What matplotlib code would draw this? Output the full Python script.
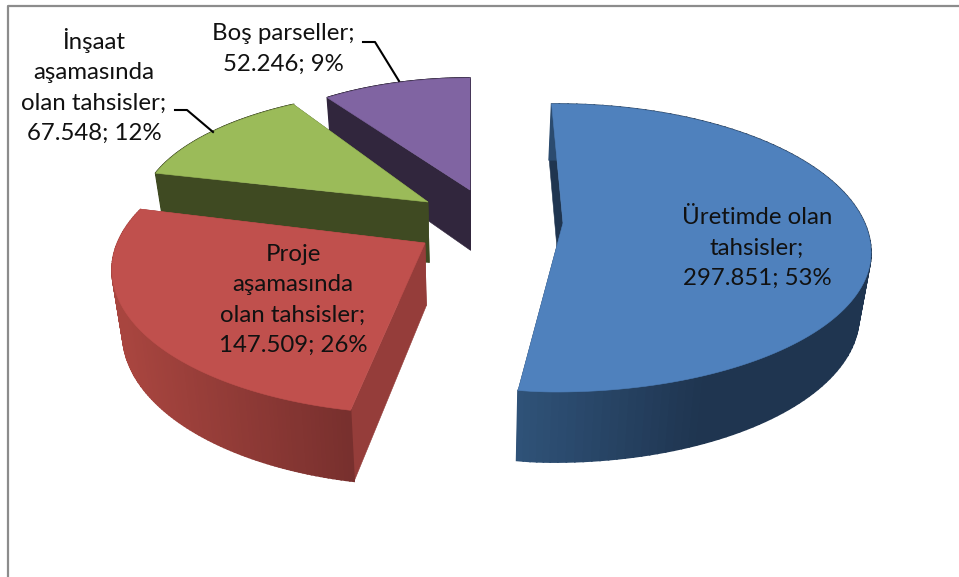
import matplotlib
matplotlib.use("Agg")
import matplotlib.pyplot as plt
import numpy as np
from matplotlib.colors import to_rgb
from matplotlib.patches import Polygon

plt.rcParams['font.family'] = ['Lato', 'DejaVu Sans']

CATEGORIES = ["Üretimde olan\ntahsisler;", "Proje\naşamasında\nolan tahsisler;", "İnşaat\naşamasında\nolan tahsisler;", "Boş parseller;"]
VALUES = [297851, 147509, 67548, 52246]
VALUE_LABELS = ["297.851", "147.509", "67.548", "52.246"]
PERCENT_LABELS = ["53%", "26%", "12%", "9%"]

TOP_COLORS = ["#4F81BD", "#C0504D", "#9BBB59", "#8064A2"]
SIDE_LEFT = ["#2F5278", "#A8453F", "#3F4A22", "#31263D"]
SIDE_RIGHT = ["#1F3550", "#762F2D", "#3F4A22", "#31263D"]
RADIAL_COLORS = ["#1F3550", "#953D3A", "#3F4A22", "#31263D"]
SIDE_RANGE = [(518, 700), (125, 356), (150, 430), (330, 470)]

# layout of each exploded slice, in picture pixels
APEX = [(563, 223), (425, 243), (428, 202), (470, 190)]
ELLIPSE_CENTER = [(556, 253), (420, 270), (430, 213), (470, 198)]
RX_LEFT = [250, 308, 290, 260]
RX_RIGHT = [315, 308, 290, 260]
RY_BACK = [149, 144, 123, 120]
RY_FRONT = [139, 144, 123, 120]
ARC_SHIFT = [0, -8.3, -6.2, -1]
ARC_STRETCH = [1, 1.085, 1, 1]
DRAW_ORDER = [3, 2, 1, 0]

LABEL_POS = [(757, 248), (293, 300), (94, 86), (283, 49)]
LEADERS = {2: [(175, 110), (187, 110), (213, 132)], 3: [(363, 42), (375, 42), (399, 81)]}

fig = plt.figure(figsize=(9.59, 5.77), dpi=100)
ax = fig.add_axes([0, 0, 1, 1])

wedges, _ = ax.pie(VALUES, startangle=91, counterclock=False)
thetas = [(w.theta1, w.theta2) for w in wedges]
for w in wedges:
    w.remove()

ax.set_aspect('auto')
ax.set_xlim(0, 959)
ax.set_ylim(577, 0)
ax.axis('off')


def extrude(pts):
    # push top surface points down to the base of the pie
    pts = np.asarray(pts, dtype=float)
    out = pts.copy()
    out[:, 0] = pts[:, 0] + (470 - pts[:, 0]) * 0.03
    out[:, 1] = pts[:, 1] + 60 + 0.05 * (pts[:, 1] - 190)
    return out


def arc_points(i, theta1, theta2):
    true_mid = (theta1 + theta2) / 2
    t = np.linspace(theta1, theta2, 120)
    t = np.radians(true_mid + ARC_SHIFT[i] + (t - true_mid) * ARC_STRETCH[i])
    cx, cy = ELLIPSE_CENTER[i]
    c, s = np.cos(t), np.sin(t)
    x = cx + c * np.where(c < 0, RX_LEFT[i], RX_RIGHT[i])
    y = cy - s * np.where(s > 0, RY_BACK[i], RY_FRONT[i])
    return np.column_stack([x, y])


for i in DRAW_ORDER:
    theta1, theta2 = thetas[i]
    arc = arc_points(i, theta1, theta2)
    base = extrude(arc)
    apex = np.array([APEX[i]], dtype=float)
    apex_base = extrude(apex)
    lo, hi = SIDE_RANGE[i]
    left_rgb = np.array(to_rgb(SIDE_LEFT[i]))
    right_rgb = np.array(to_rgb(SIDE_RIGHT[i]))

    for end in (0, -1):
        face = [apex[0], arc[end], base[end], apex_base[0]]
        ax.add_patch(Polygon(face, closed=True, facecolor=RADIAL_COLORS[i], edgecolor=RADIAL_COLORS[i], lw=0.4, zorder=1))

    for k in range(len(arc) - 1):
        frac = np.clip((arc[k, 0] - lo) / (hi - lo), 0, 1)
        col = left_rgb + (right_rgb - left_rgb) * frac
        strip = [arc[k], arc[k + 1], base[k + 1], base[k]]
        ax.add_patch(Polygon(strip, closed=True, facecolor=col, edgecolor=col, lw=1.2, zorder=1))

    top = np.vstack([apex, arc])
    ax.add_patch(Polygon(top, closed=True, facecolor=TOP_COLORS[i], edgecolor=TOP_COLORS[i], lw=0.4, zorder=1))

for i, (x, y) in enumerate(LABEL_POS):
    txt = "{}\n{}; {}".format(CATEGORIES[i], VALUE_LABELS[i], PERCENT_LABELS[i])
    ax.text(x, y, txt, ha='center', va='center', fontsize=17.3, linespacing=1.55, color='#111111', zorder=3)

for pts in LEADERS.values():
    xs, ys = zip(*pts)
    ax.plot(xs, ys, color='black', lw=1.5, zorder=3)

# chart frame, only the top and left edges show in the screenshot
ax.plot([8, 8, 959], [577, 6, 6], color='#8C8C8C', lw=1.6, zorder=0)

fig.savefig("out.png", dpi=100)
